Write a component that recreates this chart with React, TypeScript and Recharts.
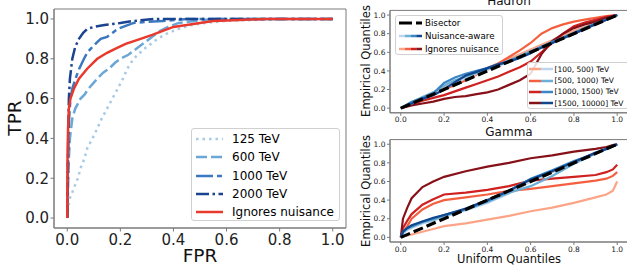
import { LineChart, Line, XAxis, YAxis, ReferenceArea } from "recharts";

const FONT = '"DejaVu Sans", sans-serif';

// ROC curves, left panel (FPR / TPR pairs)
const FPR_125 = [0, 0.003, 0.01, 0.025, 0.04, 0.05, 0.065, 0.075, 0.095, 0.113, 0.13, 0.15, 0.17, 0.19, 0.21, 0.226, 0.25, 0.29, 0.34, 0.38, 0.42, 0.47, 0.52, 0.6, 0.7, 0.8, 1];
const TPR_125 = [0, 0.05, 0.1, 0.15, 0.2, 0.25, 0.3, 0.35, 0.4, 0.45, 0.5, 0.55, 0.6, 0.65, 0.7, 0.75, 0.8, 0.85, 0.9, 0.93, 0.95, 0.97, 0.98, 0.99, 0.995, 1, 1];
const FPR_600 = [0, 0.002, 0.004, 0.006, 0.01, 0.019, 0.03, 0.05, 0.065, 0.08, 0.1, 0.113, 0.135, 0.157, 0.18, 0.2, 0.23, 0.26, 0.29, 0.32, 0.35, 0.38, 0.42, 0.48, 0.55, 1];
const TPR_600 = [0, 0.1, 0.2, 0.3, 0.4, 0.5, 0.55, 0.6, 0.62, 0.65, 0.68, 0.7, 0.73, 0.75, 0.78, 0.8, 0.82, 0.85, 0.88, 0.91, 0.94, 0.96, 0.98, 0.99, 1, 1];
const FPR_1000 = [0, 0.002, 0.004, 0.007, 0.012, 0.019, 0.031, 0.045, 0.063, 0.075, 0.088, 0.11, 0.126, 0.15, 0.17, 0.19, 0.21, 0.25, 0.3, 0.36, 0.45, 1];
const TPR_1000 = [0, 0.2, 0.4, 0.5, 0.6, 0.65, 0.7, 0.75, 0.8, 0.83, 0.85, 0.88, 0.9, 0.91, 0.93, 0.95, 0.96, 0.98, 0.985, 0.99, 1, 1];
const FPR_2000 = [0, 0.002, 0.004, 0.006, 0.01, 0.019, 0.03, 0.044, 0.06, 0.075, 0.1, 0.14, 0.2, 0.25, 0.33, 1];
const TPR_2000 = [0, 0.2, 0.45, 0.6, 0.7, 0.8, 0.86, 0.9, 0.93, 0.95, 0.96, 0.97, 0.98, 0.99, 1, 1];
const FPR_IGN = [0, 0.001, 0.003, 0.006, 0.012, 0.025, 0.044, 0.075, 0.113, 0.15, 0.18, 0.22, 0.276, 0.32, 0.36, 0.4, 0.45, 0.5, 0.55, 0.65, 0.75, 1];
const TPR_IGN = [0, 0.3, 0.45, 0.55, 0.6, 0.65, 0.7, 0.75, 0.8, 0.83, 0.85, 0.875, 0.9, 0.92, 0.94, 0.96, 0.97, 0.98, 0.99, 0.995, 1, 1];

// QQ plots: uniform quantiles and empirical quantiles per energy bin
const QX_H = [0, 0.05, 0.1, 0.15, 0.2, 0.25, 0.3, 0.35, 0.4, 0.45, 0.5, 0.55, 0.6, 0.65, 0.7, 0.75, 0.8, 0.85, 0.9, 0.95, 1];
const HAD_AWARE_1 = [0, 0.05, 0.1, 0.15, 0.21, 0.27, 0.32, 0.37, 0.41, 0.45, 0.5, 0.55, 0.6, 0.65, 0.7, 0.75, 0.8, 0.85, 0.9, 0.95, 1];
const HAD_AWARE_2 = [0, 0.06, 0.12, 0.17, 0.24, 0.3, 0.34, 0.38, 0.42, 0.46, 0.51, 0.56, 0.61, 0.66, 0.71, 0.75, 0.8, 0.85, 0.9, 0.95, 1];
const HAD_AWARE_3 = [0, 0.07, 0.11, 0.16, 0.27, 0.33, 0.37, 0.4, 0.43, 0.47, 0.51, 0.55, 0.6, 0.66, 0.71, 0.76, 0.81, 0.86, 0.91, 0.95, 1];
const HAD_AWARE_4 = [0, 0.05, 0.1, 0.14, 0.2, 0.28, 0.35, 0.39, 0.43, 0.47, 0.5, 0.54, 0.59, 0.65, 0.7, 0.75, 0.8, 0.85, 0.9, 0.95, 1];
const HAD_IGN_1 = [0, 0.05, 0.1, 0.16, 0.22, 0.27, 0.33, 0.38, 0.43, 0.48, 0.53, 0.58, 0.63, 0.68, 0.73, 0.78, 0.83, 0.87, 0.92, 0.96, 1];
const HAD_IGN_2 = [0, 0.05, 0.1, 0.15, 0.2, 0.25, 0.3, 0.36, 0.43, 0.48, 0.55, 0.62, 0.7, 0.8, 0.86, 0.9, 0.93, 0.95, 0.97, 0.99, 1];
const HAD_IGN_3 = [0, 0.04, 0.08, 0.11, 0.14, 0.18, 0.22, 0.26, 0.3, 0.34, 0.39, 0.44, 0.5, 0.6, 0.7, 0.8, 0.88, 0.92, 0.95, 0.98, 1];
const HAD_IGN_4 = [0, 0.03, 0.05, 0.07, 0.1, 0.12, 0.13, 0.15, 0.17, 0.2, 0.25, 0.3, 0.37, 0.58, 0.72, 0.8, 0.86, 0.9, 0.93, 0.97, 1];

const QX_G = [0, 0.01, 0.03, 0.05, 0.1, 0.15, 0.2, 0.3, 0.4, 0.5, 0.6, 0.7, 0.8, 0.9, 0.95, 0.98, 1];
const GAM_AWARE_1 = [0, 0.04, 0.08, 0.1, 0.15, 0.18, 0.22, 0.29, 0.37, 0.47, 0.6, 0.7, 0.8, 0.9, 0.95, 0.98, 1];
const GAM_AWARE_2 = [0, 0.05, 0.09, 0.11, 0.16, 0.19, 0.23, 0.3, 0.38, 0.48, 0.55, 0.66, 0.79, 0.9, 0.95, 0.98, 1];
const GAM_AWARE_3 = [0, 0.06, 0.1, 0.12, 0.17, 0.2, 0.24, 0.3, 0.39, 0.5, 0.63, 0.72, 0.82, 0.9, 0.95, 0.98, 1];
const GAM_AWARE_4 = [0, 0.06, 0.1, 0.13, 0.17, 0.21, 0.24, 0.31, 0.4, 0.5, 0.62, 0.71, 0.81, 0.91, 0.95, 0.98, 1];
const GAM_IGN_1 = [0, 0.01, 0.02, 0.03, 0.06, 0.09, 0.12, 0.15, 0.19, 0.23, 0.28, 0.32, 0.37, 0.43, 0.46, 0.5, 0.6];
const GAM_IGN_2 = [0, 0.06, 0.12, 0.2, 0.3, 0.36, 0.4, 0.43, 0.46, 0.5, 0.52, 0.55, 0.58, 0.61, 0.63, 0.66, 0.7];
const GAM_IGN_3 = [0, 0.1, 0.18, 0.25, 0.35, 0.41, 0.46, 0.48, 0.51, 0.55, 0.61, 0.63, 0.65, 0.67, 0.7, 0.73, 0.78];
const GAM_IGN_4 = [0, 0.2, 0.32, 0.42, 0.54, 0.6, 0.65, 0.71, 0.76, 0.8, 0.85, 0.88, 0.92, 0.95, 0.97, 0.99, 1];

const BISECTOR = [0, 1];
const TICKS = [0, 0.2, 0.4, 0.6, 0.8, 1];
const ENERGY_BINS = ["[100, 500) TeV", "[500, 1000) TeV", "[1000, 1500) TeV", "[1500, 10000] TeV"];

const REDS = ["#fca487", "#f4603f", "#cf2120", "#861119"];
const BLUES = ["#bcd7eb", "#6baed6", "#3a87c4", "#11478f"];
const SPINE = "#7a7a7a";

const pts = (xs: number[], ys: number[]) => xs.map((x, i) => ({ x, y: ys[i] }));

const ROC = [
  { name: "125 TeV", d: pts(FPR_125, TPR_125), c: "#a8cae4", dash: "2.5 4" },
  { name: "600 TeV", d: pts(FPR_600, TPR_600), c: "#6ba7d6", dash: "11 4" },
  { name: "1000 TeV", d: pts(FPR_1000, TPR_1000), c: "#3b78bf", dash: "17 4 5 4" },
  { name: "2000 TeV", d: pts(FPR_2000, TPR_2000), c: "#1a448f", dash: "13 3.5 2.5 3.5" },
];
const ROC_IGN = pts(FPR_IGN, TPR_IGN);

const HADRON = {
  aware: [HAD_AWARE_1, HAD_AWARE_2, HAD_AWARE_3, HAD_AWARE_4].map((a) => pts(QX_H, a)),
  ign: [HAD_IGN_1, HAD_IGN_2, HAD_IGN_3, HAD_IGN_4].map((a) => pts(QX_H, a)),
};
const GAMMA = {
  aware: [GAM_AWARE_1, GAM_AWARE_2, GAM_AWARE_3, GAM_AWARE_4].map((a) => pts(QX_G, a)),
  ign: [GAM_IGN_1, GAM_IGN_2, GAM_IGN_3, GAM_IGN_4].map((a) => pts(QX_G, a)),
};

const fmt = (v: number) => v.toFixed(1);

function Frame() {
  return (
    <ReferenceArea
      x1={-0.05}
      x2={1.05}
      y1={-0.05}
      y2={1.05}
      fill="none"
      stroke={SPINE}
      strokeWidth={1}
      ifOverflow="visible"
    />
  );
}

function RocPanel() {
  return (
    <LineChart width={350} height={271} margin={{ top: 9, right: 4, bottom: 18, left: 14 }}>
      <XAxis
        type="number"
        dataKey="x"
        domain={[-0.05, 1.05]}
        ticks={TICKS}
        tickFormatter={fmt}
        allowDataOverflow
        height={25}
        tickSize={3.5}
        tickMargin={3}
        stroke={SPINE}
        tick={{ fill: "#222", fontSize: 15, fontFamily: FONT }}
      />
      <YAxis
        type="number"
        dataKey="y"
        domain={[-0.05, 1.05]}
        ticks={TICKS}
        tickFormatter={fmt}
        allowDataOverflow
        width={40}
        tickSize={3.5}
        tickMargin={1.5}
        stroke={SPINE}
        tick={{ fill: "#222", fontSize: 15, fontFamily: FONT }}
      />
      <Frame />
      {ROC.map((r) => (
        <Line key={r.name} data={r.d} dataKey="y" type="linear" stroke={r.c} strokeWidth={2.5}
          strokeDasharray={r.dash} dot={false} isAnimationActive={false} />
      ))}
      <Line data={ROC_IGN} dataKey="y" type="linear" stroke="#e8392c" strokeWidth={2.5}
        dot={false} isAnimationActive={false} />
    </LineChart>
  );
}

function QQPanel({ set, top, tickMargin }: { set: typeof HADRON; top: number; tickMargin: number }) {
  return (
    <LineChart width={300} height={146} margin={{ top, right: 2, bottom: 146 - top - 102.4 - 20, left: 30 }}>
      <XAxis
        type="number"
        dataKey="x"
        domain={[-0.05, 1.05]}
        ticks={TICKS}
        tickFormatter={fmt}
        allowDataOverflow
        height={20}
        tickSize={3}
        tickMargin={tickMargin}
        stroke={SPINE}
        tick={{ fill: "#222", fontSize: 7.5, fontFamily: FONT }}
      />
      <YAxis
        type="number"
        dataKey="y"
        domain={[-0.05, 1.05]}
        ticks={TICKS}
        tickFormatter={fmt}
        allowDataOverflow
        width={30}
        tickSize={3}
        tickMargin={1.5}
        stroke={SPINE}
        tick={{ fill: "#222", fontSize: 7.5, fontFamily: FONT }}
      />
      <Frame />
      {set.ign.map((d, i) => (
        <Line key={"r" + i} data={d} dataKey="y" type="linear" stroke={REDS[i]} strokeWidth={2.2}
          dot={false} isAnimationActive={false} />
      ))}
      {set.aware.map((d, i) => (
        <Line key={"b" + i} data={d} dataKey="y" type="linear" stroke={BLUES[i]} strokeWidth={2.2}
          dot={false} isAnimationActive={false} />
      ))}
      <Line data={pts(BISECTOR, BISECTOR)} dataKey="y" type="linear" stroke="#000" strokeWidth={3.2}
        strokeDasharray="10 4" dot={false} isAnimationActive={false} />
    </LineChart>
  );
}

const abs = (left: number, top: number): React.CSSProperties => ({ position: "absolute", left, top });

function Sample({ w, colors, dash, sw }: { w: number; colors: string[]; dash?: string; sw: number }) {
  const seg = w / colors.length;
  return (
    <svg width={w} height={6} style={{ display: "block" }}>
      {colors.map((c, i) => (
        <line key={i} x1={i * seg} x2={(i + 1) * seg} y1={3} y2={3} stroke={c} strokeWidth={sw} strokeDasharray={dash} />
      ))}
    </svg>
  );
}

export default function App() {
  const label: React.CSSProperties = { position: "absolute", fontFamily: FONT, color: "#111", whiteSpace: "nowrap", lineHeight: 1 };
  const legendBox: React.CSSProperties = {
    position: "absolute",
    background: "rgba(255,255,255,0.85)",
    border: "1px solid #d0d0d0",
    borderRadius: 3,
    boxSizing: "border-box",
  };
  const row = (y: number, x: number): React.CSSProperties => ({
    position: "absolute", left: x, top: y, display: "flex", alignItems: "center", whiteSpace: "nowrap",
  });

  return (
    <div style={{ position: "absolute", left: 0, top: 0, width: 627, height: 271, overflow: "hidden", background: "#fff", fontFamily: FONT }}>
      <div style={abs(0, 0)}>
        <RocPanel />
      </div>
      <div style={abs(330, 0)}>
        <QQPanel set={HADRON} top={10.4} tickMargin={0.5} />
      </div>
      <div style={abs(330, 125)}>
        <QQPanel set={GAMMA} top={14.6} tickMargin={1.5} />
      </div>

      {/* axis labels and titles */}
      <div style={{ ...label, left: 200, top: 256, fontSize: 18.5, transform: "translate(-50%,-50%)" }}>FPR</div>
      <div style={{ ...label, left: 15, top: 118, fontSize: 18.5, transform: "translate(-50%,-50%) rotate(-90deg)" }}>TPR</div>
      <div style={{ ...label, left: 509, top: 1.5, fontSize: 12, transform: "translate(-50%,-55%)" }}>Hadron</div>
      <div style={{ ...label, left: 509, top: 132, fontSize: 12, transform: "translate(-50%,-50%)" }}>Gamma</div>
      <div style={{ ...label, left: 509, top: 260, fontSize: 11.5, transform: "translate(-50%,-50%)" }}>Uniform Quantiles</div>
      <div style={{ ...label, left: 367, top: 61, fontSize: 11.5, transform: "translate(-50%,-50%) rotate(-90deg)" }}>Empirical Quantiles</div>
      <div style={{ ...label, left: 367, top: 191, fontSize: 11.5, transform: "translate(-50%,-50%) rotate(-90deg)" }}>Empirical Quantiles</div>

      {/* ROC legend */}
      <div style={{ ...legendBox, left: 191, top: 128, width: 149, height: 93, fontSize: 12 }}>
        {ROC.map((r, i) => (
          <div key={r.name} style={row(10 + i * 18.3 - 7, 4)}>
            <Sample w={27} colors={[r.c]} dash={r.dash} sw={2.5} />
            <span style={{ marginLeft: 9, lineHeight: "14px" }}>{r.name}</span>
          </div>
        ))}
        <div style={row(83 - 7, 4)}>
          <Sample w={27} colors={["#e8392c"]} sw={2.5} />
          <span style={{ marginLeft: 9, lineHeight: "14px" }}>Ignores nuisance</span>
        </div>
      </div>

      {/* Hadron legends */}
      <div style={{ ...legendBox, left: 395, top: 15, width: 108, height: 40, fontSize: 8.7 }}>
        <div style={row(7.3 - 5, 3)}>
          <Sample w={23} colors={["#000"]} dash="13 4" sw={3} />
          <span style={{ marginLeft: 3, lineHeight: "10px" }}>Bisector</span>
        </div>
        <div style={row(20 - 5, 3)}>
          <Sample w={23} colors={BLUES} sw={2.5} />
          <span style={{ marginLeft: 3, lineHeight: "10px" }}>Nuisance-aware</span>
        </div>
        <div style={row(32.6 - 5, 3)}>
          <Sample w={23} colors={REDS} sw={2.5} />
          <span style={{ marginLeft: 3, lineHeight: "10px" }}>Ignores nuisance</span>
        </div>
      </div>
      <div style={{ ...legendBox, left: 527, top: 62, width: 102, height: 47, fontSize: 7.5 }}>
        {ENERGY_BINS.map((b, i) => (
          <div key={b} style={row(6.3 + i * 11.3 - 4.5, 1)}>
            <Sample w={24} colors={[REDS[i], BLUES[i]]} sw={2.5} />
            <span style={{ marginLeft: 1.5, lineHeight: "9px" }}>{b}</span>
          </div>
        ))}
      </div>
    </div>
  );
}
